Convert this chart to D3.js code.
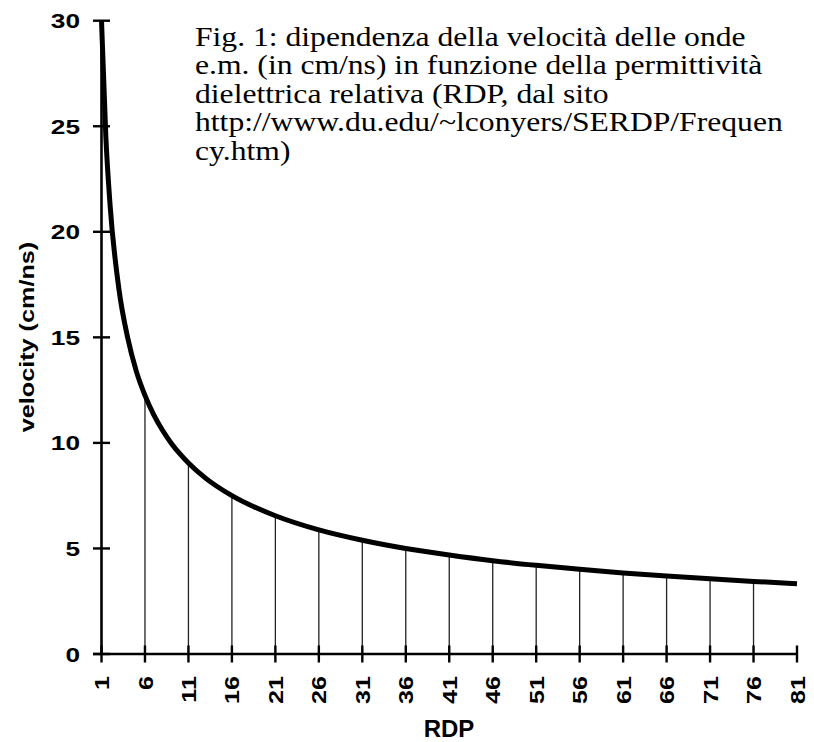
<!DOCTYPE html>
<html>
<head>
<meta charset="utf-8">
<script src="https://cdn.jsdelivr.net/npm/d3@7"></script>
<style>
  html, body { margin: 0; padding: 0; background: #fff; }
  svg { display: block; }
</style>
</head>
<body>
<svg id="chart" width="814" height="742"></svg>
<script>
// Relative dielectric permittivity (RDP) and wave velocity (cm/ns)
const rdp      = [1, 1.5, 2, 3, 4, 5, 6, 7, 8, 9, 10, 11, 13, 16, 21, 26, 31, 36, 41, 46, 51, 56, 61, 66, 71, 76, 81];
const velocity = [30.0, 24.5, 21.2, 17.3, 15.0, 13.4, 12.25, 11.34, 10.61, 10.0, 9.49, 9.05, 8.32, 7.5, 6.55, 5.88, 5.39, 5.0, 4.69, 4.42, 4.2, 4.01, 3.84, 3.69, 3.56, 3.44, 3.33];

// Axis ticks
const xTicks = [1, 6, 11, 16, 21, 26, 31, 36, 41, 46, 51, 56, 61, 66, 71, 76, 81];
const yTicks = [0, 5, 10, 15, 20, 25, 30];
// Vertical guide lines drawn from the axis up to the curve
const dropAt = [6, 11, 16, 21, 26, 31, 36, 41, 46, 51, 56, 61, 66, 71, 76];

const captionLines = [
  "Fig. 1: dipendenza della velocità delle onde",
  "e.m. (in cm/ns) in funzione della permittività",
  "dielettrica relativa (RDP, dal sito",
  "http://www.du.edu/~lconyers/SERDP/Frequen",
  "cy.htm)"
];

const svg = d3.select("#chart");
const x = d3.scaleLinear().domain([1, 81]).range([101.5, 797]);
const y = d3.scaleLinear().domain([0, 30]).range([654, 20.7]);

const points = rdp.map((r, i) => ({ r, v: velocity[i] }));
const valueAt = r => velocity[rdp.indexOf(r)];

const sans = "'Liberation Sans', Arial, sans-serif";
const tickLen = 8.5;

// guide lines
svg.append("g")
  .selectAll("line")
  .data(dropAt)
  .join("line")
  .attr("x1", d => x(d)).attr("x2", d => x(d))
  .attr("y1", y(0)).attr("y2", d => y(valueAt(d)))
  .attr("stroke", "#222")
  .attr("stroke-width", 1.3);

// y axis
const yAxis = svg.append("g");
yAxis.append("line")
  .attr("x1", x(1)).attr("x2", x(1))
  .attr("y1", y(0)).attr("y2", y(30))
  .attr("stroke", "#000").attr("stroke-width", 2.6);
yAxis.selectAll("line.tick")
  .data(yTicks)
  .join("line")
  .attr("class", "tick")
  .attr("x1", x(1) - tickLen).attr("x2", x(1) + tickLen)
  .attr("y1", d => y(d)).attr("y2", d => y(d))
  .attr("stroke", "#000").attr("stroke-width", 2.4);
yAxis.selectAll("text")
  .data(yTicks)
  .join("text")
  .attr("transform", d => `translate(80,${y(d)}) scale(1.25,1)`)
  .attr("text-anchor", "end")
  .attr("dy", "0.36em")
  .attr("font-family", sans)
  .attr("font-weight", "bold")
  .attr("font-size", 21)
  .attr("fill", "#000")
  .text(d => d);

// x axis
const xAxis = svg.append("g");
xAxis.append("line")
  .attr("x1", x(1) - tickLen).attr("x2", x(81))
  .attr("y1", y(0)).attr("y2", y(0))
  .attr("stroke", "#000").attr("stroke-width", 2.6);
xAxis.selectAll("line.tick")
  .data(xTicks)
  .join("line")
  .attr("class", "tick")
  .attr("x1", d => x(d)).attr("x2", d => x(d))
  .attr("y1", y(0) - tickLen).attr("y2", y(0) + tickLen)
  .attr("stroke", "#000").attr("stroke-width", 2.4);
xAxis.selectAll("text")
  .data(xTicks)
  .join("text")
  .attr("transform", d => `translate(${x(d)},676) rotate(-90) scale(1.2,1)`)
  .attr("text-anchor", "end")
  .attr("dy", "0.36em")
  .attr("font-family", sans)
  .attr("font-weight", "bold")
  .attr("font-size", 21)
  .attr("fill", "#000")
  .text(d => d);

// axis titles
svg.append("text")
  .attr("transform", "translate(34,337) rotate(-90) scale(1.2,1)")
  .attr("text-anchor", "middle")
  .attr("font-family", sans)
  .attr("font-weight", "bold")
  .attr("font-size", 21)
  .attr("fill", "#000")
  .text("velocity (cm/ns)");

svg.append("text")
  .attr("x", 449).attr("y", 737)
  .attr("text-anchor", "middle")
  .attr("font-family", sans)
  .attr("font-weight", "bold")
  .attr("font-size", 24)
  .attr("fill", "#000")
  .text("RDP");

// velocity curve
const line = d3.line()
  .x(d => x(d.r))
  .y(d => y(d.v))
  .curve(d3.curveMonotoneX);

svg.append("path")
  .datum(points)
  .attr("d", line)
  .attr("fill", "none")
  .attr("stroke", "#000")
  .attr("stroke-width", 5)
  .attr("stroke-linejoin", "round")
  .attr("stroke-linecap", "butt");

// caption block
const caption = svg.append("g")
  .attr("transform", "translate(195,0) scale(1.13,1)");
caption.selectAll("text")
  .data(captionLines)
  .join("text")
  .attr("x", 0)
  .attr("y", (d, i) => 46 + i * 28.5)
  .attr("font-family", "'Liberation Serif', 'Times New Roman', serif")
  .attr("font-size", 28)
  .attr("fill", "#000")
  .text(d => d);
</script>
</body>
</html>
